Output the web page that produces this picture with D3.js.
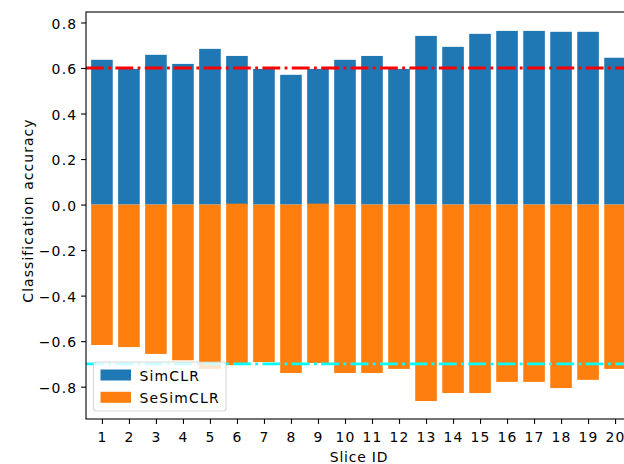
<!DOCTYPE html>
<html>
<head>
<meta charset="utf-8">
<script src="https://cdn.jsdelivr.net/npm/d3@7"></script>
<style>
    body { margin: 0; background: white; }
    text { font-family: "DejaVu Sans", sans-serif; }
</style>
</head>
<body>
<script>
// Slice ids on the x axis
var slices = [1, 2, 3, 4, 5, 6, 7, 8, 9, 10,
              11, 12, 13, 14, 15, 16, 17, 18, 19, 20];

// SimCLR accuracy, drawn upward
var simclr = [0.636, 0.596, 0.658, 0.618, 0.684, 0.653, 0.596, 0.570, 0.596,
              0.636, 0.653, 0.596, 0.741, 0.693, 0.750, 0.763, 0.763, 0.759,
              0.759, 0.645];

// SeSimCLR accuracy, drawn downward (as negative values)
var sesimclr = [0.617, 0.626, 0.656, 0.684, 0.722, 0.705, 0.692, 0.740, 0.696,
                0.740, 0.740, 0.722, 0.863, 0.828, 0.828, 0.779, 0.779, 0.806,
                0.770, 0.722];

// Where the orange bars start (a couple poke just above zero)
var seStart = [0, 0, 0, 0, 0, 0.004, 0, 0, 0.004, 0,
               0, 0, 0, 0, 0, 0, 0, 0, 0, 0];

var yTicks = [-0.8, -0.6, -0.4, -0.2, 0.0, 0.2, 0.4, 0.6, 0.8];
var refLines = [{value: 0.6, color: "red"}, {value: -0.7, color: "cyan"}];
var seriesNames = ["SimCLR", "SeSimCLR"];
var colors = ["#1f77b4", "#ff7f0e"];

// plot area; right edge falls past the picture like the original
var plot = {left: 86, right: 631, top: 12, bottom: 419};
var fontSize = 13.9;
var spacing = 1.2;   // matplotlib's hinted text runs a bit wider

var svg = d3.select("body").append("svg")
    .attr("width", 624)
    .attr("height", 464);

var xScale = d3.scaleLinear().domain([0.41, 20.59])
    .range([plot.left, plot.right]);
var yScale = d3.scaleLinear().domain([-0.942, 0.846])
    .range([plot.bottom, plot.top]);
var barW = xScale(0.8) - xScale(0);

var data = slices.map(function (s, i) {
    return {id: s, a: simclr[i], b: sesimclr[i], start: seStart[i]};
});

// blue bars go up from zero
svg.append("g").selectAll("rect")
    .data(data)
    .enter()
    .append("rect")
    .attr("x", function (d) { return xScale(d.id) - barW / 2; })
    .attr("y", function (d) { return yScale(d.a); })
    .attr("width", barW)
    .attr("height", function (d) { return yScale(0) - yScale(d.a); })
    .attr("fill", colors[0]);

// orange bars go down
svg.append("g").selectAll("rect")
    .data(data)
    .enter()
    .append("rect")
    .attr("x", function (d) { return xScale(d.id) - barW / 2; })
    .attr("y", function (d) { return yScale(d.start); })
    .attr("width", barW)
    .attr("height", function (d) { return yScale(-d.b) - yScale(d.start); })
    .attr("fill", colors[1]);

// dash-dot reference lines
svg.append("g").selectAll("line")
    .data(refLines)
    .enter()
    .append("line")
    .attr("x1", plot.left)
    .attr("x2", plot.right)
    .attr("y1", function (d) { return yScale(d.value); })
    .attr("y2", function (d) { return yScale(d.value); })
    .attr("stroke", function (d) { return d.color; })
    .attr("stroke-width", 2.8)
    .attr("stroke-dasharray", "17.8,4.4,2.8,4.4");

// axes
var xAxis = d3.axisBottom(xScale).tickValues(slices)
    .tickSize(4.9).tickPadding(8.2).tickFormat(d3.format("d"));
var yAxis = d3.axisLeft(yScale).tickValues(yTicks)
    .tickSize(4.9).tickPadding(3.8).tickFormat(d3.format(".1f"));

var gx = svg.append("g")
    .attr("transform", "translate(0," + plot.bottom + ")")
    .call(xAxis);
var gy = svg.append("g")
    .attr("transform", "translate(" + plot.left + ",0)")
    .call(yAxis);

[gx, gy].forEach(function (g) {
    g.select(".domain").remove();
    g.selectAll(".tick line").attr("stroke", "black").attr("stroke-width", 1.1);
    g.selectAll(".tick text")
        .attr("fill", "black")
        .style("font-size", fontSize + "px")
        .style("font-family", "DejaVu Sans")
        .style("letter-spacing", spacing + "px");
});
gy.selectAll(".tick text").attr("dy", "0.4em");

// spines
svg.append("rect")
    .attr("x", plot.left)
    .attr("y", plot.top)
    .attr("width", plot.right - plot.left)
    .attr("height", plot.bottom - plot.top)
    .attr("fill", "none")
    .attr("stroke", "black")
    .attr("stroke-width", 1.1);

// axis labels
svg.append("text")
    .attr("x", 359)
    .attr("y", 462)
    .attr("text-anchor", "middle")
    .style("font-size", fontSize + "px")
    .style("letter-spacing", "0.8px")
    .text("Slice ID");

svg.append("text")
    .attr("transform", "translate(32.5,210.5) rotate(-90)")
    .attr("text-anchor", "middle")
    .style("font-size", fontSize + "px")
    .style("letter-spacing", "1.1px")
    .text("Classification accuracy");

// legend, lower left
var legend = svg.append("g").attr("transform", "translate(93.5,362)");
legend.append("rect")
    .attr("width", 132.5)
    .attr("height", 49)
    .attr("rx", 3)
    .attr("fill", "white")
    .attr("fill-opacity", 0.8)
    .attr("stroke", "#cccccc")
    .attr("stroke-opacity", 0.8)
    .attr("stroke-width", 1.1);

var items = legend.selectAll("g.item")
    .data(seriesNames)
    .enter()
    .append("g")
    .attr("class", "item")
    .attr("transform", function (d, i) {
        return "translate(7," + (7.5 + i * 22.3) + ")";
    });
items.append("rect")
    .attr("width", 30.5)
    .attr("height", 11)
    .attr("fill", function (d, i) { return colors[i]; });
items.append("text")
    .attr("x", 39)
    .attr("y", 11)
    .style("font-size", fontSize + "px")
    .style("letter-spacing", spacing + "px")
    .text(function (d) { return d; });
</script>
</body>
</html>
